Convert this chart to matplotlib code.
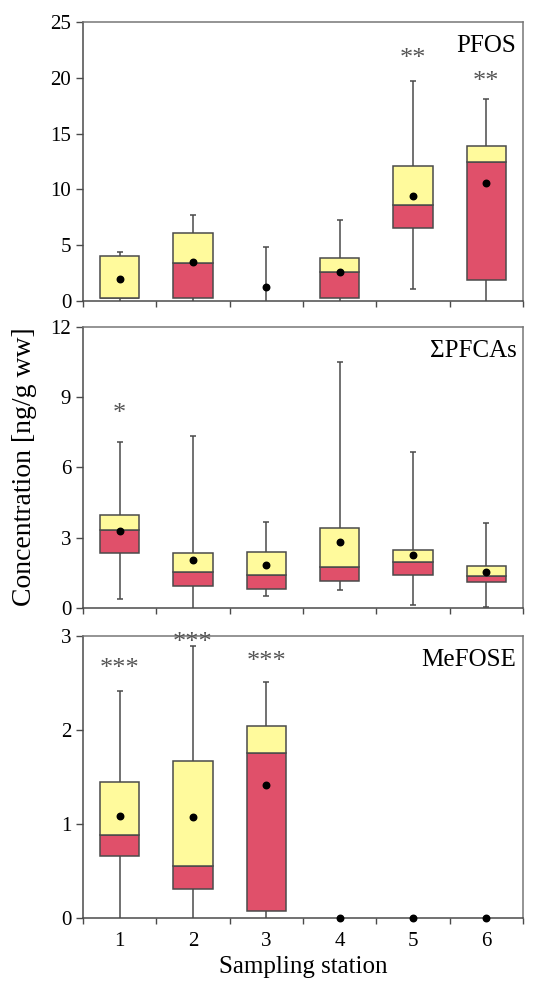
import matplotlib
matplotlib.use("Agg")
import matplotlib.pyplot as plt
import numpy as np

plt.rcParams['font.family'] = ['Liberation Serif', 'DejaVu Serif']

stations = [1, 2, 3, 4, 5, 6]

# PFOS
pfos_q1 = [0.27, 0.27, 0.0, 0.27, 6.5, 1.85]
pfos_med = [0.27, 3.43, 0.0, 2.57, 8.62, 12.41]
pfos_q3 = [4.06, 6.09, 0.0, 3.82, 12.11, 13.9]
pfos_lo = [0.0, 0.0, 0.0, 0.0, 1.07, 0.0]
pfos_hi = [4.4, 7.67, 4.8, 7.28, 19.75, 18.08]
pfos_mean = [2.0, 3.49, 1.22, 2.6, 9.37, 10.59]
pfos_stars = ['', '', '', '', '**', '**']
pfos_star_y = [0, 0, 0, 0, 22.3, 20.25]

# sum PFCAs
pfca_q1 = [2.34, 0.95, 0.81, 1.14, 1.41, 1.09]
pfca_med = [3.31, 1.55, 1.42, 1.75, 1.97, 1.35]
pfca_q3 = [3.96, 2.36, 2.40, 3.41, 2.46, 1.80]
pfca_lo = [0.40, 0.0, 0.50, 0.77, 0.14, 0.04]
pfca_hi = [7.09, 7.34, 3.68, 10.51, 6.67, 3.64]
pfca_mean = [3.27, 2.04, 1.82, 2.80, 2.27, 1.53]
pfca_stars = ['*', '', '', '', '', '']
pfca_star_y = [8.6, 0, 0, 0, 0, 0]

# MeFOSE
mefose_q1 = [0.663, 0.31, 0.074, 0, 0, 0]
mefose_med = [0.887, 0.557, 1.755, 0, 0, 0]
mefose_q3 = [1.443, 1.67, 2.04, 0, 0, 0]
mefose_lo = [0.0, 0.0, 0.0, 0, 0, 0]
mefose_hi = [2.41, 2.89, 2.51, 0, 0, 0]
mefose_mean = [1.08, 1.07, 1.42, 0, 0, 0]
mefose_stars = ['***', '***', '***', '', '', '']
mefose_star_y = [2.72, 3.0, 2.80, 0, 0, 0]

yellow = '#FFFA9C'
red = '#E0506A'
edge = '#4a4a4a'


def draw_panel(ax, q1, med, q3, lo, hi, mean, stars, star_y, ymax, yticks, name):
    x = np.array(stations)
    q1, med, q3 = np.array(q1), np.array(med), np.array(q3)
    lo, hi = np.array(lo), np.array(hi)
    has_w = hi > 0
    has_box = q3 > 0
    ax.vlines(x[has_w], lo[has_w], hi[has_w], color=edge, lw=1.1, zorder=1)
    ax.hlines(hi[has_w], x[has_w] - 0.04, x[has_w] + 0.04, color=edge, lw=1.1, zorder=1)
    lo_cap = lo > 0
    ax.hlines(lo[lo_cap], x[lo_cap] - 0.04, x[lo_cap] + 0.04, color=edge, lw=1.1, zorder=1)
    ax.bar(x[has_box], (med - q1)[has_box], bottom=q1[has_box],
           width=0.54, color=red, edgecolor=edge, lw=1.1, zorder=2)
    ax.bar(x[has_box], (q3 - med)[has_box], bottom=med[has_box],
           width=0.54, color=yellow, edgecolor=edge, lw=1.1, zorder=2)
    ax.scatter(x, mean, s=22, color='black', zorder=4, clip_on=False)
    for xi, s, sy in zip(x, stars, star_y):
        if s:
            # asterisks sit high in the em box, so nudge the baseline down
            ax.annotate(s, (xi, sy), xytext=(0, -5), textcoords='offset points',
                        ha='center', va='center', fontsize=19, color='#555555',
                        annotation_clip=False)
    ax.set_xlim(0.5, 6.5)
    ax.set_ylim(0, ymax)
    ax.set_yticks(yticks)
    ax.set_xticks(np.arange(0.5, 7, 1))
    ax.set_xticklabels([])
    ax.tick_params(axis='both', direction='out', length=5, width=1, color=edge,
                   labelsize=15)
    ax.tick_params(axis='x', length=4)
    for sp in ax.spines.values():
        sp.set_color('#777777')
        sp.set_linewidth(1.1)
    ax.spines['left'].set_color(edge)
    ax.spines['bottom'].set_color(edge)
    ax.text(0.985, 0.915, name, transform=ax.transAxes, ha='right', va='center', fontsize=18)


fig = plt.figure(figsize=(5.34, 9.81), dpi=100)
ax1 = fig.add_axes([0.1554, 0.6932, 0.8240, 0.2844])
ax2 = fig.add_axes([0.1554, 0.3802, 0.8240, 0.2865])
ax3 = fig.add_axes([0.1554, 0.0642, 0.8240, 0.2875])

draw_panel(ax1, pfos_q1, pfos_med, pfos_q3, pfos_lo, pfos_hi, pfos_mean,
           pfos_stars, pfos_star_y, 25, [0, 5, 10, 15, 20, 25], 'PFOS')
draw_panel(ax2, pfca_q1, pfca_med, pfca_q3, pfca_lo, pfca_hi, pfca_mean,
           pfca_stars, pfca_star_y, 12, [0, 3, 6, 9, 12], '\u03a3PFCAs')
draw_panel(ax3, mefose_q1, mefose_med, mefose_q3, mefose_lo, mefose_hi, mefose_mean,
           mefose_stars, mefose_star_y, 3, [0, 1, 2, 3], 'MeFOSE')

# station numbers under the bottom panel
ax3.set_xticks(stations, minor=True)
ax3.set_xticklabels([str(s) for s in stations], minor=True)
ax3.tick_params(axis='x', which='minor', length=0, pad=10, labelsize=15)
ax3.set_xlabel('Sampling station', fontsize=18, labelpad=4)
fig.text(0.045, 0.524, 'Concentration [ng/g ww]', rotation=90, ha='center', va='center',
         fontsize=20)

fig.savefig('out.png', dpi=100)
